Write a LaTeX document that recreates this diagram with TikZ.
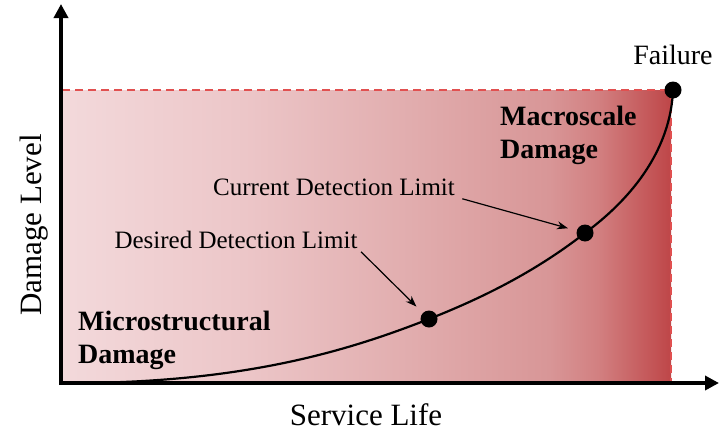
\documentclass[tikz,border=0pt]{standalone}
\usepackage{fontspec}
\setmainfont{Liberation Serif}
\usetikzlibrary{arrows.meta, positioning}

\definecolor{fadeA}{RGB}{243,217,219}
\definecolor{fadeB}{RGB}{236,198,200}
\definecolor{fadeC}{RGB}{224,170,171}
\definecolor{fadeD}{RGB}{216,150,151}
\definecolor{fadeE}{RGB}{210,128,129}
\definecolor{fadeF}{RGB}{190,70,72}
\definecolor{limitred}{RGB}{225,80,80}

\pgfdeclarehorizontalshading{damagefade}{100bp}{color(0bp)=(fadeA); color(25bp)=(fadeA);
  color(40bp)=(fadeB); color(55bp)=(fadeC); color(65bp)=(fadeD); color(69bp)=(fadeE);
  color(75bp)=(fadeF); color(100bp)=(fadeF)}

\begin{document}
\begin{tikzpicture}[
  x=1pt, y=-1pt,
  axis/.style={line width=3.5pt, -{Triangle[length=14pt,width=14pt]}},
  pointer/.style={line width=1.2pt, -{Stealth[length=11pt,width=8pt]}, shorten >=9pt},
  limit/.style={font=\fontsize{25}{30}\selectfont},
  stage/.style={font=\fontsize{28}{33}\selectfont\bfseries, align=left, inner sep=0pt, anchor=north west},
  axislabel/.style={font=\fontsize{31}{37}\selectfont}
]
\tikzstyle{dot}=[circle,fill=black,minimum size=17pt,inner sep=0pt]
\useasboundingbox (0,0) rectangle (719,431);

% damage region
\shade[shading=damagefade] (62,90) rectangle (671,383);
\draw[limitred, line width=1.3pt, dash pattern=on 8pt off 5pt] (62,90) -- (671,90) -- (671,383);

% axes
\draw[axis] (61,385) -- (61,4);
\draw[axis] (59,383) -- (719,383);
\node[axislabel, anchor=base] (xlabel) at (366,425) {Service Life};
\node[axislabel, rotate=90, anchor=base] (ylabel) at (41,225) {Damage Level};

% damage curve
\node[dot] (failpt) at (673,90) {};
\node[dot] (curpt) at (585,233) {};
\node[dot] (despt) at (429,319) {};
\draw[line width=2.2pt] (85,383) .. controls (250,381) and (350,350) .. (despt.center)
  .. controls (490,295) and (540,268) .. (curpt.center)
  .. controls (643,190) and (671,140) .. (failpt.center);

\node[font=\fontsize{28}{33}\selectfont, above=13pt of failpt] (failure) {Failure};
\node[stage] (macro) at (500,106) {Macroscale\\Damage};
\node[stage] (micro) at (78,311) {Microstructural\\Damage};

% detection limits
\node[limit, anchor=base] (curlbl) at (334,195) {Current Detection Limit};
\node[limit, anchor=base] (deslbl) at (236,248) {Desired Detection Limit};
\draw[pointer] ([xshift=4pt]curlbl.south east) -- (curpt);
\draw[pointer] (deslbl.south east) -- (despt);

\end{tikzpicture}
\end{document}
